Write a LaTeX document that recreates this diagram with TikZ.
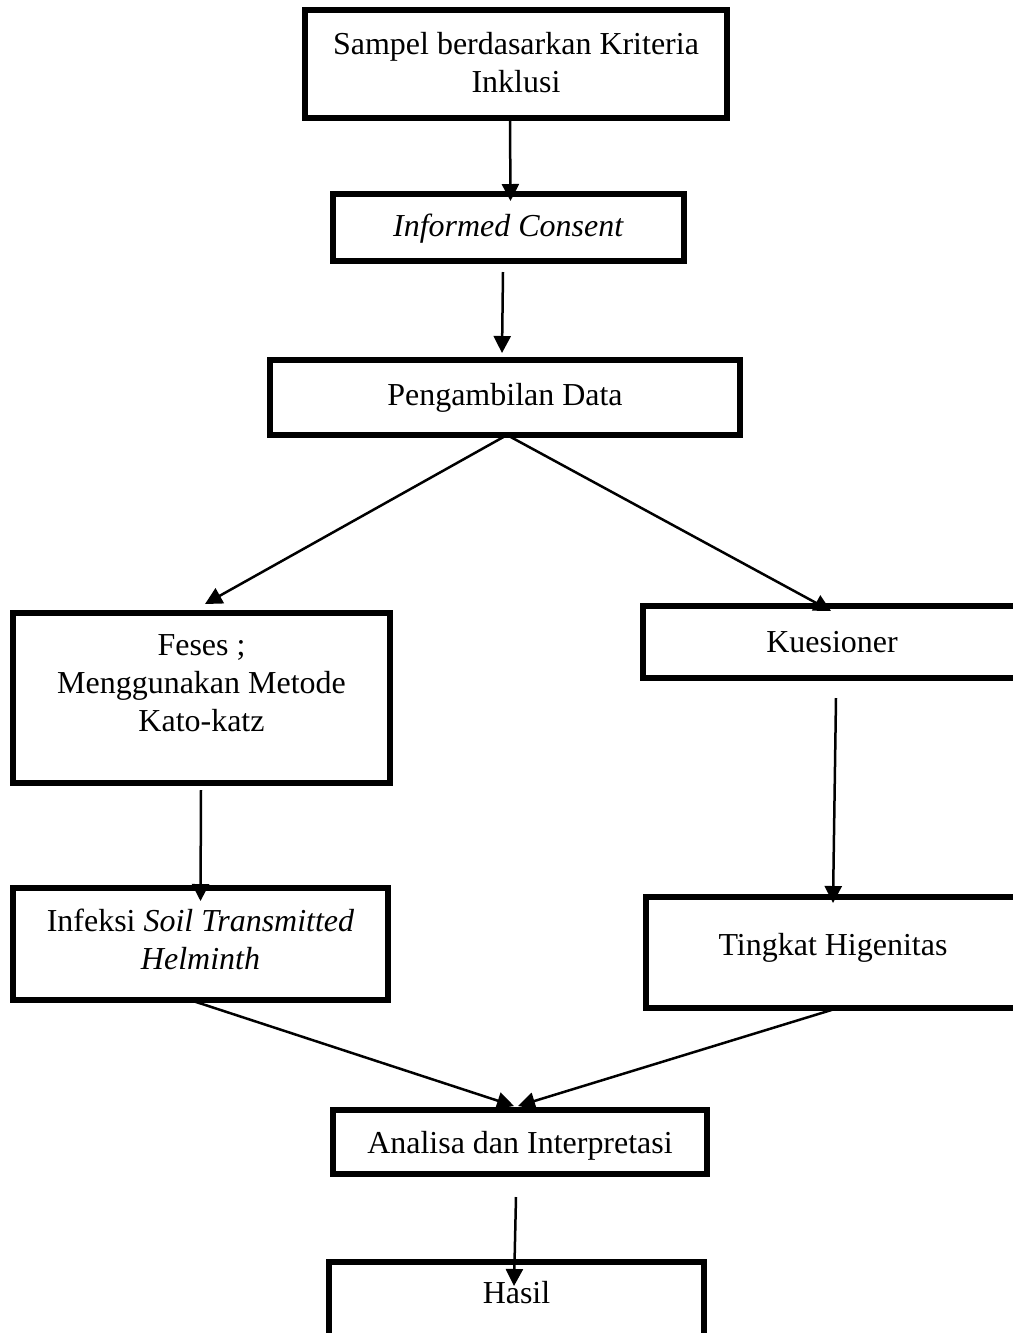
\documentclass[tikz,border=0pt]{standalone}
\usepackage{fontspec}
\setmainfont{Liberation Serif}
\usetikzlibrary{arrows.meta}
\begin{document}
\begin{tikzpicture}[x=0.02cm,y=-0.02cm,
  box/.style={draw=black, line width=0.11cm, inner sep=0pt, outer sep=0pt},
  txt/.style={font=\fontsize{18.2pt}{21.6pt}\selectfont, align=center, inner sep=0pt, anchor=north},
  arr/.style={draw=black, line width=0.05cm, -{Triangle[length=0.34cm,width=0.34cm]}}]
\useasboundingbox (0,0) rectangle (1013,1333);
\clip (0,0) rectangle (1013,1333);
\fill[white] (0,0) rectangle (1013,1333);
% boxes
\node[box, minimum width=8.44cm, minimum height=2.16cm] (A) at (516,64) {};
\node[box, minimum width=7.02cm, minimum height=1.34cm] (B) at (508.5,227.5) {};
\node[box, minimum width=9.4cm, minimum height=1.5cm] (C) at (505,397.5) {};
\node[box, minimum width=7.54cm, minimum height=3.4cm] (D) at (201.5,698) {};
\node[box, minimum width=7.56cm, minimum height=1.44cm] (E) at (832,642) {};
\node[box, minimum width=7.5cm, minimum height=2.24cm] (F) at (200.5,944) {};
\node[box, minimum width=7.48cm, minimum height=2.22cm] (G) at (833,952.5) {};
\node[box, minimum width=7.48cm, minimum height=1.28cm] (H) at (520,1142) {};
\node[box, minimum width=7.5cm, minimum height=1.66cm] (I) at (516.5,1303.5) {};
% texts
\node[txt] (tA) at (516,27.4) {\strut Sampel berdasarkan Kriteria\\Inklusi};
\node[txt] (tB) at (508.5,209.4) {\strut\textit{Informed Consent}};
\node[txt] (tC) at (505,378.4) {\strut Pengambilan Data};
\node[txt] (tD) at (201.5,628.4) {\strut Feses ;\\Menggunakan Metode\\Kato-katz};
\node[txt] (tE) at (832,625.4) {\strut Kuesioner};
\node[txt] (tF) at (200.5,904.4) {\strut Infeksi \textit{Soil Transmitted}\\\textit{Helminth}};
\node[txt] (tG) at (833,928.4) {\strut Tingkat Higenitas};
\node[txt] (tH) at (520,1126.4) {\strut Analisa dan Interpretasi};
\node[txt] (tI) at (516.5,1276.4) {\strut Hasil};
% free ends
\coordinate (b1) at (503,272);
\coordinate (d1) at (201,790);
\coordinate (e1) at (836,698);
\coordinate (h1) at (516,1197);
% connectors
\draw[arr] ([xshift=-0.12cm]A.south) -- ([xshift=0.04cm,yshift=-0.14cm]B.north);
\draw[arr] (b1) -- ([xshift=-0.06cm,yshift=0.14cm]C.north);
\draw[arr] ([xshift=0.04cm]C.south) -- ([xshift=0.07cm,yshift=0.18cm]D.north);
\draw[arr] ([xshift=0.04cm]C.south) -- ([xshift=-0.02cm,yshift=-0.1cm]E.north);
\draw[arr] (d1) -- ([yshift=-0.26cm]F.north);
\draw[arr] (e1) -- ([yshift=-0.12cm]G.north);
\draw[arr] ([xshift=-0.21cm]F.south) -- ([xshift=-0.12cm,yshift=0.08cm]H.north);
\draw[arr] ([xshift=0.1cm]G.south) -- ([xshift=-0.04cm,yshift=0.08cm]H.north);
\draw[arr] (h1) -- ([xshift=-0.05cm,yshift=-0.48cm]I.north);
\end{tikzpicture}
\end{document}
